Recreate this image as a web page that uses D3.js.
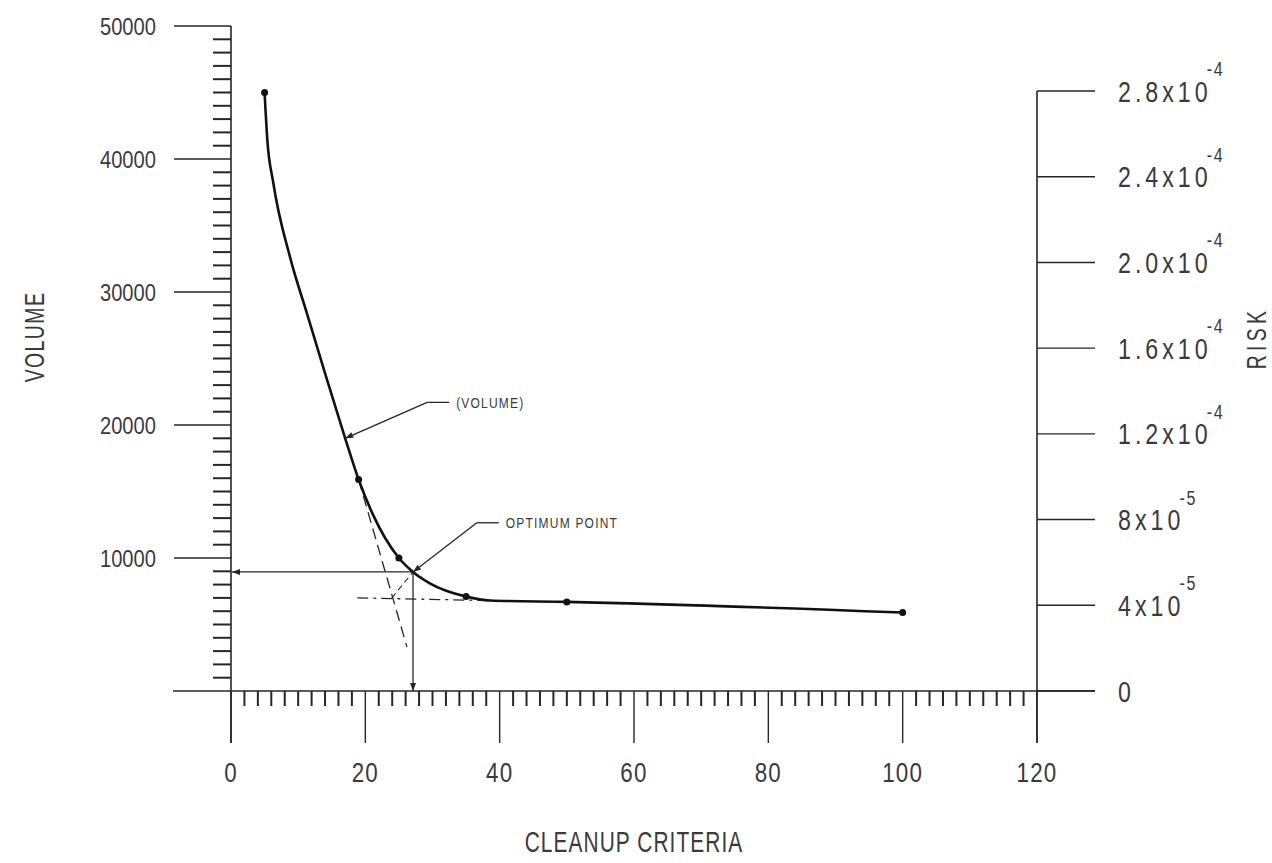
<!DOCTYPE html>
<html><head><meta charset="utf-8">
<script src="https://cdn.jsdelivr.net/npm/d3@7"></script>
<style>
html,body{margin:0;padding:0;background:#fff;}
svg{display:block;}
text{font-family:"Liberation Sans",Arial,"Noto Sans",sans-serif;fill:#3a3a3a;}
</style></head><body>
<svg id="chart" width="1272" height="863"></svg>
<script>
// ---- data ----
const xTicks = [0, 20, 40, 60, 80, 100, 120];
const volumeTicks = [0, 10000, 20000, 30000, 40000, 50000];
const riskTicks = [0, 4e-5, 8e-5, 1.2e-4, 1.6e-4, 2.0e-4, 2.4e-4, 2.8e-4];
const riskMantissa = ["0", "4x10", "8x10", "1.2x10", "1.6x10", "2.0x10", "2.4x10", "2.8x10"];
const riskExponent = ["", "-5", "-5", "-4", "-4", "-4", "-4", "-4"];
// traced volume curve (cleanup criteria vs volume)
const curveCriteria = [5, 5.4, 6.3, 8.8, 11.3, 14.3, 17, 19, 21.1, 25, 27.1, 29.6, 35, 38.6, 50, 100];
const curveVolume   = [45000, 41500, 38200, 32600, 28400, 23400, 19000, 15900, 13300, 10000, 8950, 8100, 7100, 6800, 6700, 5900];
// marked data points
const markerCriteria = [5, 19, 25, 35, 50, 100];
const markerVolume   = [45000, 15900, 10000, 7100, 6700, 5900];
// optimum point
const optimumCriteria = 27.1, optimumVolume = 8950;
// construction lines
const steepTangent = [[19, 15900], [26.2, 3300]];
const flatTangent  = [[18.8, 7000], [38.6, 6800]];
const bisector     = [[23.95, 7000], [27.1, 8950]];
// annotations: [label, tipCriteria, tipVolume, elbowCriteria, elbowVolume]
const annotations = [
  ["(VOLUME)", 17.0, 19000, 29.2, 21700],
  ["OPTIMUM POINT", 27.1, 8950, 36.6, 12650]
];

// ---- scales ----
const svg = d3.select("#chart");
const x = d3.scaleLinear().domain([0, 120]).range([231, 1037]);
const y = d3.scaleLinear().domain([0, 50000]).range([691, 26]);
const r = d3.scaleLinear().domain([0, 2.8e-4]).range([691, 91]);
const ink = "#262626";

const defs = svg.append("defs");
defs.append("marker").attr("id", "arr").attr("viewBox", "0 0 10 10")
  .attr("refX", 10).attr("refY", 5).attr("markerWidth", 17).attr("markerHeight", 8)
  .attr("markerUnits", "userSpaceOnUse").attr("orient", "auto")
  .append("path").attr("d", "M0,1.2 L10,5 L0,8.8 Z").attr("fill", ink);

const g = svg.append("g");

// narrow-text helper (horizontal condensation of the font)
function label(parent, tx, ty, txt, size, sx, anchor, ls, rot) {
  return parent.append("text")
    .attr("transform", `translate(${tx},${ty})` + (rot ? ` rotate(${rot})` : "") + ` scale(${sx},1)`)
    .attr("text-anchor", anchor).attr("font-size", size).attr("letter-spacing", ls)
    .text(txt);
}

// ---- left axis (volume) ----
const yAxisX = x(0);
g.append("line").attr("x1", yAxisX).attr("x2", yAxisX)
  .attr("y1", y(50000)).attr("y2", y(0) + 52).attr("stroke", ink).attr("stroke-width", 1.6);
const minorV = d3.range(1000, 50000, 1000).filter(v => v % 10000 !== 0);
g.selectAll(".vminor").data(minorV).enter().append("line")
  .attr("x1", yAxisX - 18).attr("x2", yAxisX).attr("y1", d => y(d)).attr("y2", d => y(d))
  .attr("stroke", ink).attr("stroke-width", 2);
g.selectAll(".vmajor").data(volumeTicks.filter(v => v > 0)).enter().append("line")
  .attr("x1", yAxisX - 57).attr("x2", yAxisX).attr("y1", d => y(d)).attr("y2", d => y(d))
  .attr("stroke", ink).attr("stroke-width", 1.4);
volumeTicks.filter(v => v > 0).forEach(v => label(g, 156, y(v) + 8.6, v, 24, 0.84, "end", 0));

// ---- x axis ----
g.append("line").attr("x1", yAxisX - 58).attr("x2", x(120) + 58)
  .attr("y1", y(0)).attr("y2", y(0)).attr("stroke", ink).attr("stroke-width", 1.6);
const minorX = d3.range(2, 120, 2).filter(v => v % 20 !== 0);
g.selectAll(".xminor").data(minorX).enter().append("line")
  .attr("x1", d => x(d)).attr("x2", d => x(d)).attr("y1", y(0)).attr("y2", y(0) + 15)
  .attr("stroke", ink).attr("stroke-width", 2);
g.selectAll(".xmajor").data(xTicks).enter().append("line")
  .attr("x1", d => x(d)).attr("x2", d => x(d)).attr("y1", y(0)).attr("y2", y(0) + 52)
  .attr("stroke", ink).attr("stroke-width", 1.4);
xTicks.forEach(v => label(g, x(v), 782, v, 28, 0.8, "middle", 1.5));

// ---- right axis (risk) ----
const rAxisX = x(120);
g.append("line").attr("x1", rAxisX).attr("x2", rAxisX)
  .attr("y1", r(2.8e-4)).attr("y2", y(0) + 52).attr("stroke", ink).attr("stroke-width", 1.6);
g.selectAll(".rtick").data(riskTicks).enter().append("line")
  .attr("x1", rAxisX).attr("x2", rAxisX + 58).attr("y1", d => r(d)).attr("y2", d => r(d))
  .attr("stroke", ink).attr("stroke-width", 1.4);
riskTicks.forEach((v, i) => {
  const t = label(g, rAxisX + 81, r(v) + 10.5, "", 29, 0.8, "start", 5);
  t.append("tspan").text(riskMantissa[i]);
  t.append("tspan").attr("dy", -25.5).attr("dx", -6).attr("font-size", 20).attr("letter-spacing", 2)
    .text(riskExponent[i]);
});

// ---- axis titles ----
label(g, 44, 337, "VOLUME", 27, 0.72, "middle", 2, -90);
label(g, 1266, 338, "RISK", 27, 0.72, "middle", 6, -90);
label(g, x(60), 852, "CLEANUP CRITERIA", 29, 0.72, "middle", 1.5);

// ---- construction lines ----
const ln = d3.line().x(d => x(d[0])).y(d => y(d[1]));
g.append("path").attr("d", ln(steepTangent)).attr("fill", "none").attr("stroke", ink)
  .attr("stroke-width", 1.3).attr("stroke-dasharray", "11,6");
g.append("path").attr("d", ln(flatTangent)).attr("fill", "none").attr("stroke", ink)
  .attr("stroke-width", 1.3).attr("stroke-dasharray", "11,5,3,5");
g.append("path").attr("d", ln(bisector)).attr("fill", "none").attr("stroke", ink)
  .attr("stroke-width", 1.1).attr("stroke-dasharray", "6,4");

// ---- optimum arrows ----
g.append("line").attr("x1", x(optimumCriteria)).attr("y1", y(optimumVolume))
  .attr("x2", x(0) + 1).attr("y2", y(optimumVolume))
  .attr("stroke", ink).attr("stroke-width", 1.3).attr("marker-end", "url(#arr)");
g.append("line").attr("x1", x(optimumCriteria)).attr("y1", y(optimumVolume))
  .attr("x2", x(optimumCriteria)).attr("y2", y(0))
  .attr("stroke", ink).attr("stroke-width", 1.3).attr("marker-end", "url(#arr)");

// ---- volume curve ----
const curvePts = curveCriteria.map((c, i) => [c, curveVolume[i]]);
g.append("path").attr("d", d3.line().x(d => x(d[0])).y(d => y(d[1])).curve(d3.curveMonotoneX)(curvePts))
  .attr("fill", "none").attr("stroke", "#111").attr("stroke-width", 2.6);
g.selectAll(".dot").data(markerCriteria).enter().append("circle")
  .attr("cx", d => x(d)).attr("cy", (d, i) => y(markerVolume[i])).attr("r", 3.5).attr("fill", "#111");

// ---- annotations ----
annotations.forEach(a => {
  const [txt, tc, tv, ec, ev] = a;
  const ex = x(ec), ey = y(ev);
  g.append("line").attr("x1", ex).attr("y1", ey).attr("x2", x(tc)).attr("y2", y(tv))
    .attr("stroke", ink).attr("stroke-width", 1.3).attr("marker-end", "url(#arr)");
  g.append("line").attr("x1", ex).attr("y1", ey).attr("x2", ex + 22).attr("y2", ey)
    .attr("stroke", ink).attr("stroke-width", 1.3);
  label(g, ex + 29, ey + 5.5, txt, 15, 0.8, "start", 1.5);
});
</script>
</body></html>
